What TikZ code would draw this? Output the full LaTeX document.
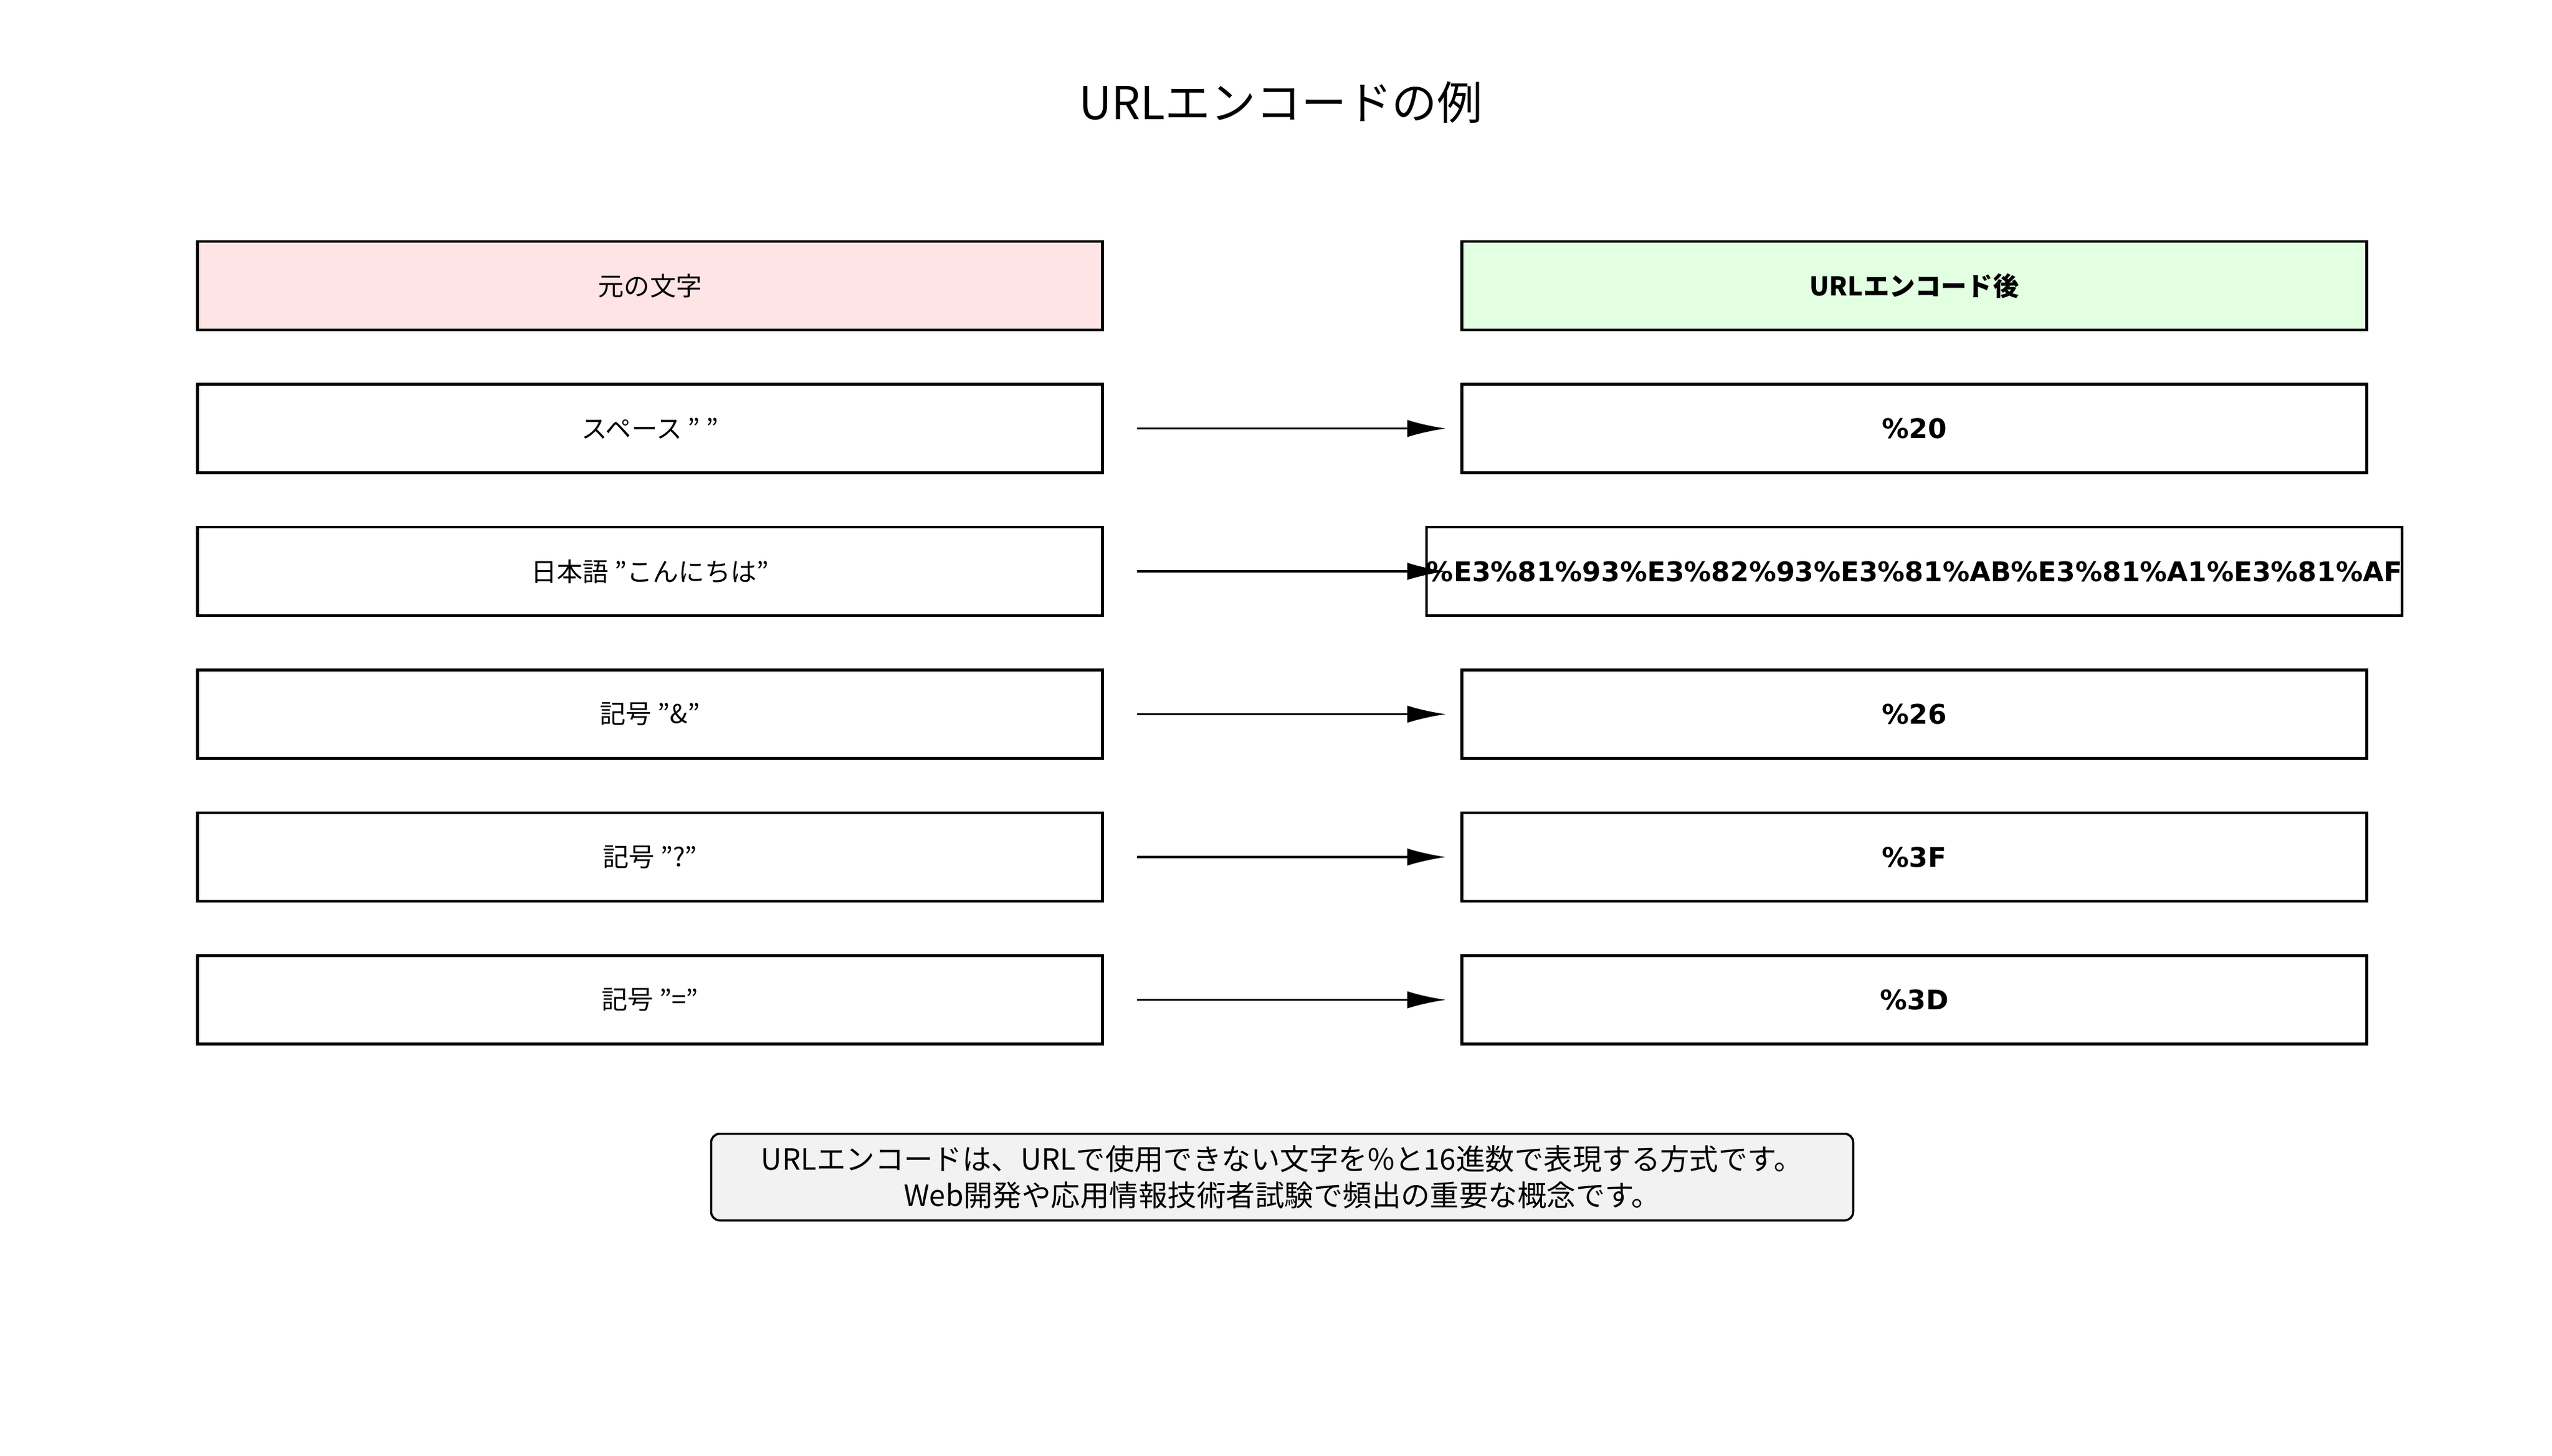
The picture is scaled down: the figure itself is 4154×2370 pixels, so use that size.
\documentclass[tikz,border=0pt]{standalone}
\usepackage{fontspec}
\setmainfont{Noto Sans CJK JP}
\newfontfamily\dejab{DejaVu Sans}
\usetikzlibrary{arrows.meta}
\begin{document}
\begin{tikzpicture}[x=0.01cm,y=-0.01cm,
  box/.style={draw,line width=1.3pt,minimum width=1473*0.01cm,minimum height=144*0.01cm,inner sep=0pt},
  lbl/.style={font=\fontsize{12}{14}\selectfont},
  enc/.style={font=\dejab\bfseries\fontsize{12.5}{14}\selectfont},
  arr/.style={line width=1.1pt,-{Latex[length=18pt,width=8pt]}}]
\useasboundingbox (0,0) rectangle (4154,2370);
\node[font=\fontsize{21}{24}\selectfont] (title) at (2085,167) {URLエンコードの例};
\node[box,fill={rgb,255:red,255;green,228;blue,230},lbl] (hl) at (1058,465) {元の文字};
\node[box,fill={rgb,255:red,226;green,255;blue,226},font=\bfseries\fontsize{12}{14}\selectfont] (hr) at (3116,465) {URLエンコード後};
\foreach \i/\a/\b in {1/{スペース "\ "}/{\%20},2/{日本語 "こんにちは"}/{\%E3\%81\%93\%E3\%82\%93\%E3\%81\%AB\%E3\%81\%A1\%E3\%81\%AF},3/{記号 "\&"}/{\%26},4/{記号 "?"}/{\%3F},5/{記号 "="}/{\%3D}}{
  \node[box,lbl] (l\i) at (1058,465+232.5*\i) {\a};
  \node[box,enc] (r\i) at (3116,465+232.5*\i) {\b};
  \coordinate (s\i) at (1851,465+232.5*\i);
  \coordinate (e\i) at (2354,465+232.5*\i);
  \draw[arr] (s\i) -- (e\i);
}
\node[draw,line width=1pt,rounded corners=4pt,fill={rgb,255:red,242;green,242;blue,242},minimum width=1859*0.01cm,minimum height=141*0.01cm,align=center,font=\fontsize{13.5}{16.5}\selectfont,inner sep=0pt] (note) at (2087,1916) {URLエンコードは、URLで使用できない文字を\%と16進数で表現する方式です。\\Web開発や応用情報技術者試験で頻出の重要な概念です。};
\end{tikzpicture}
\end{document}
